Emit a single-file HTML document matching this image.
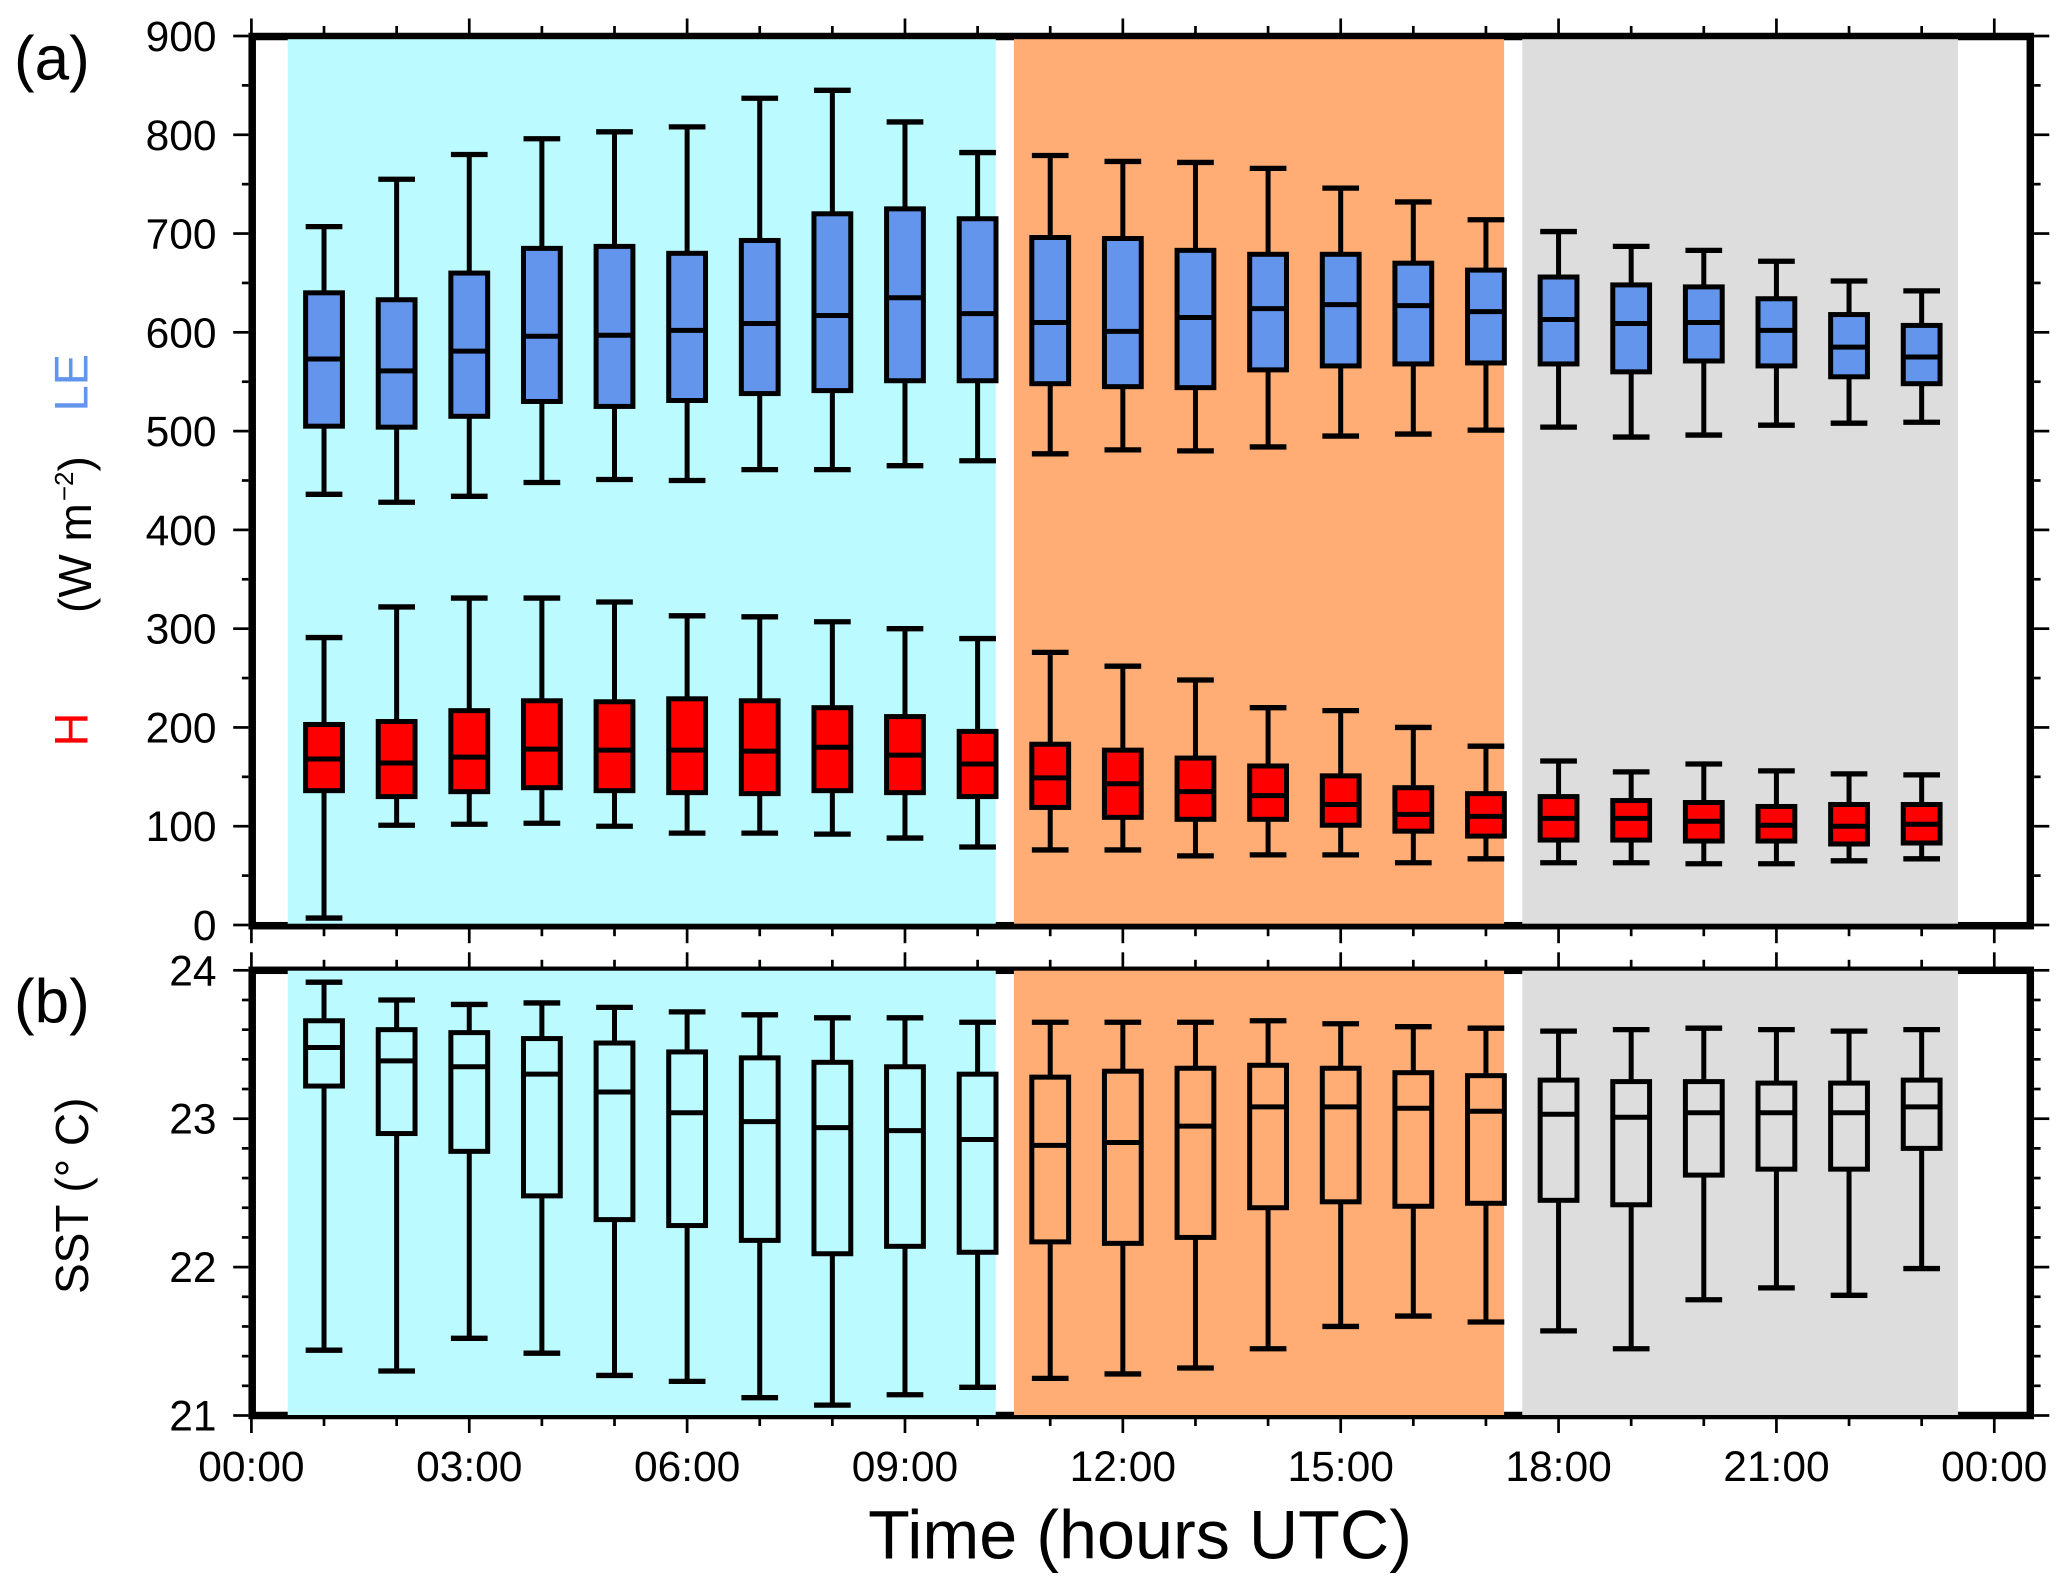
<!DOCTYPE html>
<html lang="en">
<head>
<meta charset="utf-8">
<title>Surface fluxes and SST box plots</title>
<style>
  html, body { margin: 0; padding: 0; background: #fff; }
  #stage { display: block; width: 2067px; height: 1590px; }
  text { font-family: "Liberation Sans", Arial, Helvetica, sans-serif; fill: #000; }
</style>
</head>
<body>
<svg id="stage" xmlns="http://www.w3.org/2000/svg" width="2067" height="1590" viewBox="0 0 2067 1590">
  <rect x="0" y="0" width="2067" height="1590" fill="#ffffff"/>
  <g id="panel-a"></g>
  <g id="panel-b"></g>

  <text x="14" y="79.5" font-size="62">(a)</text>
  <text x="14" y="1022.5" font-size="62">(b)</text>

  <text transform="translate(87.3,411.5) rotate(-90)" font-size="47" style="fill:#6495ED">LE</text>
  <text transform="translate(91,613) rotate(-90)" font-size="46">(W m<tspan dx="2" dy="-18" font-size="26">−2</tspan><tspan dy="18">)</tspan></text>
  <text transform="translate(87.3,746.5) rotate(-90)" font-size="47" style="fill:#FF0000">H</text>
  <text transform="translate(88,1294) rotate(-90)" font-size="46">SST (° C)</text>

  <text x="1140" y="1558.3" font-size="68.3" text-anchor="middle">Time (hours UTC)</text>
</svg>

<script>
// ---- categories ----
const hours = [1,2,3,4,5,6,7,8,9,10,11,12,13,14,15,16,17,18,19,20,21,22,23];

// ---- latent heat flux LE (W m-2) ----
const leHigh   = [707,755,780,796,803,808,837,845,813,782,779,773,772,766,746,732,714,702,687,683,672,652,642];
const leQ3     = [640,633,660,685,687,680,693,720,725,715,696,695,683,679,679,670,663,656,648,646,634,618,607];
const leMedian = [573,561,581,596,597,602,609,617,635,619,610,601,615,624,628,627,621,613,609,610,602,585,575];
const leQ1     = [505,504,515,530,525,531,538,541,551,551,548,545,544,562,566,568,569,568,560,571,566,555,548];
const leLow    = [436,428,434,448,451,450,461,461,465,470,477,481,480,484,495,497,501,504,494,496,506,508,509];

// ---- sensible heat flux H (W m-2) ----
const hHigh    = [291,322,331,331,327,313,312,307,300,290,276,262,248,220,217,200,181,166,155,163,156,153,152];
const hQ3      = [203,206,217,227,226,229,227,220,211,196,183,177,169,161,151,139,133,130,126,124,120,122,122];
const hMedian  = [168,164,170,178,177,177,176,180,172,163,149,143,135,131,122,112,110,108,108,105,101,100,102];
const hQ1      = [136,130,135,139,136,134,133,136,134,130,119,109,107,107,101,95,90,86,86,85,85,82,83];
const hLow     = [7,101,102,103,100,93,93,92,88,79,76,76,70,71,71,63,67,63,63,62,62,65,67];

// ---- sea surface temperature (deg C) ----
const sstHigh   = [23.92,23.80,23.77,23.78,23.75,23.72,23.70,23.68,23.68,23.65,23.65,23.65,23.65,23.66,23.64,23.62,23.61,23.59,23.60,23.61,23.60,23.59,23.60];
const sstQ3     = [23.66,23.60,23.58,23.54,23.51,23.45,23.41,23.38,23.35,23.30,23.28,23.32,23.34,23.36,23.34,23.31,23.29,23.26,23.25,23.25,23.24,23.24,23.26];
const sstMedian = [23.48,23.39,23.35,23.30,23.18,23.04,22.98,22.94,22.92,22.86,22.82,22.84,22.95,23.08,23.08,23.07,23.05,23.03,23.01,23.04,23.04,23.04,23.08];
const sstQ1     = [23.22,22.90,22.78,22.48,22.32,22.28,22.18,22.09,22.14,22.10,22.17,22.16,22.20,22.40,22.44,22.41,22.43,22.45,22.42,22.62,22.66,22.66,22.80];
const sstLow    = [21.44,21.30,21.52,21.42,21.27,21.23,21.12,21.07,21.14,21.19,21.25,21.28,21.32,21.45,21.60,21.67,21.63,21.57,21.45,21.78,21.86,21.81,21.99];

// ---- tick labels and shaded periods ----
const fluxTickLabels = [0,100,200,300,400,500,600,700,800,900];
const sstTickLabels = [21,22,23,24];
const timeTickHours = [0,3,6,9,12,15,18,21,24];
const timeTickLabels = ["00:00","03:00","06:00","09:00","12:00","15:00","18:00","21:00","00:00"];
const periodNames = ["cyan-period","orange-period","grey-period"];
const periodStarts = [0.5,10.5,17.5];
const periodEnds = [10.25,17.25,23.5];
const periodColors = ["#BBFAFF","#FFAD74","#DDDDDD"];

// ---- scales ----
const NS = "http://www.w3.org/2000/svg";
const xLeft = 252.2, xRight = 2030.3;
const aTop = 36.5, aBottom = 925.7;
const bTop = 970.3, bBottom = 1415.5;
function xScale(h) { return 251.4 + h * 72.62; }
function yFlux(v) { return 36 + (900 - v) * (925 - 36) / 900; }
function ySst(v) { return bTop + (24 - v) * (bBottom - bTop) / 3; }

function makeLine(parent, x1, y1, x2, y2, width) {
  const el = document.createElementNS(NS, "line");
  el.setAttribute("x1", x1);
  el.setAttribute("y1", y1);
  el.setAttribute("x2", x2);
  el.setAttribute("y2", y2);
  el.setAttribute("stroke", "#000");
  el.setAttribute("stroke-width", width);
  parent.appendChild(el);
  return el;
}
function makeRect(parent, x, y, w, h, fill) {
  const el = document.createElementNS(NS, "rect");
  el.setAttribute("x", x);
  el.setAttribute("y", y);
  el.setAttribute("width", w);
  el.setAttribute("height", h);
  el.setAttribute("fill", fill);
  parent.appendChild(el);
  return el;
}
function makeText(parent, x, y, str, anchor) {
  const el = document.createElementNS(NS, "text");
  el.setAttribute("x", x);
  el.setAttribute("y", y);
  el.setAttribute("font-size", "42.5");
  el.setAttribute("text-anchor", anchor);
  el.textContent = str;
  parent.appendChild(el);
  return el;
}

function drawFrame(parent, top, bottom, name) {
  const el = makeRect(parent, xLeft, top, xRight - xLeft, bottom - top, "none");
  el.setAttribute("stroke", "#000");
  el.setAttribute("stroke-width", "7.5");
  
  
}

function drawShading(parent, top, bottom, name) {
  const inset = name === "panel-a" ? 2.7 : 0.4;
  const insetBottom = name === "panel-a" ? 2 : 0.5;
  periodStarts.forEach(function (s, i) {
    const el = makeRect(parent, xScale(s), top + inset, xScale(periodEnds[i]) - xScale(s), bottom - top - inset - insetBottom, periodColors[i]);
    
    
  });
}

function drawTimeTicks(parent, top, bottom, topLen, bottomLen) {
  for (let h = 0; h <= 24; h++) {
    const major = h % 3 === 0;
    const x = xScale(h);
    const tickTop = makeLine(parent, x, top - 3.5, x, top - 3.5 - (major ? topLen : 7), 2.7);
    
    
    const tickBottom = makeLine(parent, x, bottom + 3.5, x, bottom + 3.5 + (major ? bottomLen : 7), 2.7);
    
    
  }
}

function drawValueTick(parent, y, major) {
  const left = makeLine(parent, xLeft - 3.8, y, xLeft - 3.8 - (major ? 15.2 : 6.5), y, 2.7);
  
  
  const right = makeLine(parent, xRight + 3.8, y, xRight + 3.8 + (major ? 15.2 : 6.5), y, 2.7);
  
  
}

function drawBoxes(parent, prefix, yScale, high, q3, median, q1, low, fill) {
  const boxWidth = 36.8, capWidth = 36.7, sw = 5;
  hours.forEach(function (h, i) {
    const x = xScale(h);
    const upper = makeLine(parent, x, yScale(high[i]), x, yScale(q3[i]), sw);
    
    
    const lower = makeLine(parent, x, yScale(q1[i]), x, yScale(low[i]), sw);
    
    
    const capHigh = makeLine(parent, x - capWidth / 2, yScale(high[i]), x + capWidth / 2, yScale(high[i]), 5.3);
    
    
    const capLow = makeLine(parent, x - capWidth / 2, yScale(low[i]), x + capWidth / 2, yScale(low[i]), 5.3);
    
    
    const box = makeRect(parent, x - boxWidth / 2, yScale(q3[i]), boxWidth, yScale(q1[i]) - yScale(q3[i]), fill);
    box.setAttribute("stroke", "#000");
    box.setAttribute("stroke-width", sw);
    
    
    const med = makeLine(parent, x - boxWidth / 2, yScale(median[i]), x + boxWidth / 2, yScale(median[i]), sw);
    
    
  });
}

// ---- panel a ----
const panelA = document.getElementById("panel-a");
drawFrame(panelA, aTop, aBottom, "panel-a");
drawShading(panelA, aTop, aBottom, "panel-a");
drawTimeTicks(panelA, aTop, aBottom, 14.5, 14);
for (let v = 0; v <= 900; v += 50) {
  drawValueTick(panelA, yFlux(v), v % 100 === 0);
}
fluxTickLabels.forEach(function (v) {
  const t = makeText(panelA, 216.5, yFlux(v) + 15, String(v), "end");
  
  
});
drawBoxes(panelA, "le", yFlux, leHigh, leQ3, leMedian, leQ1, leLow, "#6495ED");
drawBoxes(panelA, "h", yFlux, hHigh, hQ3, hMedian, hQ1, hLow, "#FF0000");

// ---- panel b ----
const panelB = document.getElementById("panel-b");
drawFrame(panelB, bTop, bBottom, "panel-b");
drawShading(panelB, bTop, bBottom, "panel-b");
drawTimeTicks(panelB, bTop, bBottom, 14.5, 14);
for (let k = 0; k <= 15; k++) {
  drawValueTick(panelB, ySst(21 + k * 0.2), k % 5 === 0);
}
sstTickLabels.forEach(function (v) {
  const t = makeText(panelB, 216.5, ySst(v) + 15, String(v), "end");
  
  
});
drawBoxes(panelB, "sst", ySst, sstHigh, sstQ3, sstMedian, sstQ1, sstLow, "none");
timeTickHours.forEach(function (h, i) {
  const t = makeText(panelB, xScale(h), 1481, timeTickLabels[i], "middle");
  
  
});
</script>
</body>
</html>
